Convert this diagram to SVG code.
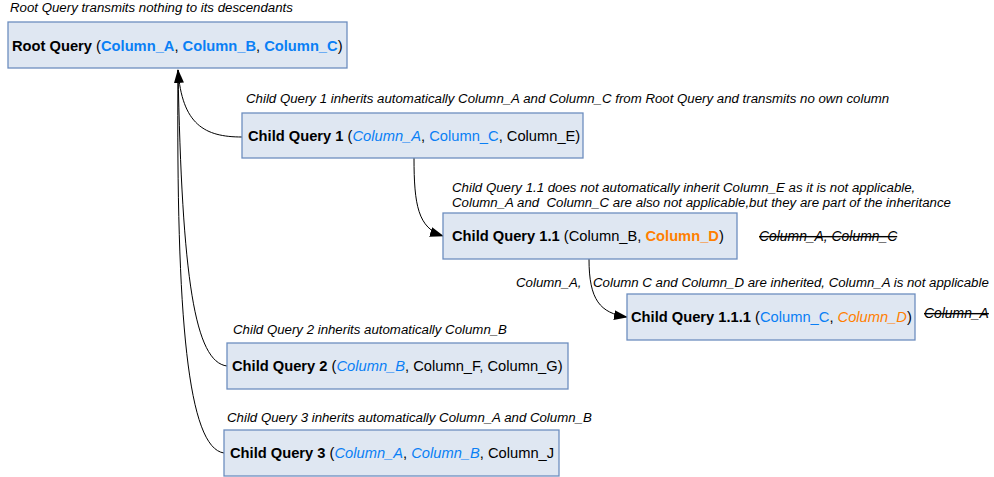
<svg xmlns="http://www.w3.org/2000/svg" width="994" height="477" viewBox="0 0 994 477">
<style>
.box{fill:#dfe7f2;stroke:#6d8ebf;stroke-width:1.3}
.nt{font-family:"Liberation Sans",Arial,sans-serif;font-size:14.7px;fill:#000}
.b{font-weight:bold}
.i{font-style:italic}
.blue{fill:#0a7ff5}
.or{fill:#ff7f00}
.lb{font-family:"Liberation Sans",Arial,sans-serif;font-size:13.25px;font-style:italic;fill:#000}
.st{text-decoration:line-through;font-size:13.9px}
.c{fill:none;stroke:#000;stroke-width:1}
</style>
<defs>
<marker id="ah" markerWidth="14" markerHeight="10" refX="13" refY="5" orient="auto" markerUnits="userSpaceOnUse">
<path d="M0,0 L14,5 L0,10 Z" fill="#000"/>
</marker>
</defs>
<rect width="994" height="477" fill="#fff"/>
<g id="connectors">
<path class="c" d="M242,137 C205,137 182,125 178,70" marker-end="url(#ah)"/>
<path class="c" d="M227,366 C195,362 182,280 178,70"/>
<path class="c" d="M224,453 C188,448 176,320 178,70"/>
<path class="c" d="M414,158 C414,205 418,228 443,236" marker-end="url(#ah)"/>
<path class="c" d="M589,259 C589,300 600,313 627,317" marker-end="url(#ah)"/>
</g>
<g id="root">
<rect class="box" x="8" y="22" width="339" height="46"/>
<text class="nt" x="12" y="51"><tspan class="b">Root Query</tspan> (<tspan class="b blue">Column_A</tspan>, <tspan class="b blue">Column_B</tspan>, <tspan class="b blue">Column_C</tspan>)</text>
</g>
<g id="cq1">
<rect class="box" x="242" y="113" width="341" height="45"/>
<text class="nt" x="248" y="141"><tspan class="b">Child Query 1</tspan> (<tspan class="i blue">Column_A</tspan>, <tspan class="blue">Column_C</tspan>, Column_E)</text>
</g>
<g id="cq11">
<rect class="box" x="443" y="213" width="294" height="46"/>
<text class="nt" x="452" y="241"><tspan class="b">Child Query 1.1</tspan> (Column_B, <tspan class="b or">Column_D</tspan>)</text>
</g>
<g id="cq111">
<rect class="box" x="627" y="294" width="288" height="46"/>
<text class="nt" x="631" y="322"><tspan class="b">Child Query 1.1.1</tspan> (<tspan class="blue">Column_C</tspan>, <tspan class="i or">Column_D</tspan>)</text>
</g>
<g id="cq2">
<rect class="box" x="227" y="343" width="341" height="46"/>
<text class="nt" x="232" y="371"><tspan class="b">Child Query 2</tspan> (<tspan class="i blue">Column_B</tspan>, Column_F, Column_G)</text>
</g>
<g id="cq3">
<rect class="box" x="224" y="430" width="335" height="46"/>
<text class="nt" x="230" y="458"><tspan class="b">Child Query 3</tspan> (<tspan class="i blue">Column_A</tspan>, <tspan class="i blue">Column_B</tspan>, Column_J</text>
</g>
<g id="labels">
<text class="lb" x="10" y="12">Root Query transmits nothing to its descendants</text>
<text class="lb" x="246" y="103">Child Query 1 inherits automatically Column_A and Column_C from Root Query and transmits no own column</text>
<text class="lb" x="452" y="192">Child Query 1.1 does not automatically inherit Column_E as it is not applicable,</text>
<text class="lb" x="452" y="207" xml:space="preserve">Column_A and  Column_C are also not applicable,but they are part of the inheritance</text>
<text class="lb st" x="759" y="241">Column_A, Column_C</text>
<text class="lb" x="516" y="287">Column_A,</text>
<text class="lb" x="593" y="287">Column C and Column_D are inherited, Column_A is not applicable</text>
<text class="lb st" x="924" y="318">Column_A</text>
<text class="lb" x="233" y="334">Child Query 2 inherits automatically Column_B</text>
<text class="lb" x="227" y="422">Child Query 3 inherits automatically Column_A and Column_B</text>
</g>
</svg>
